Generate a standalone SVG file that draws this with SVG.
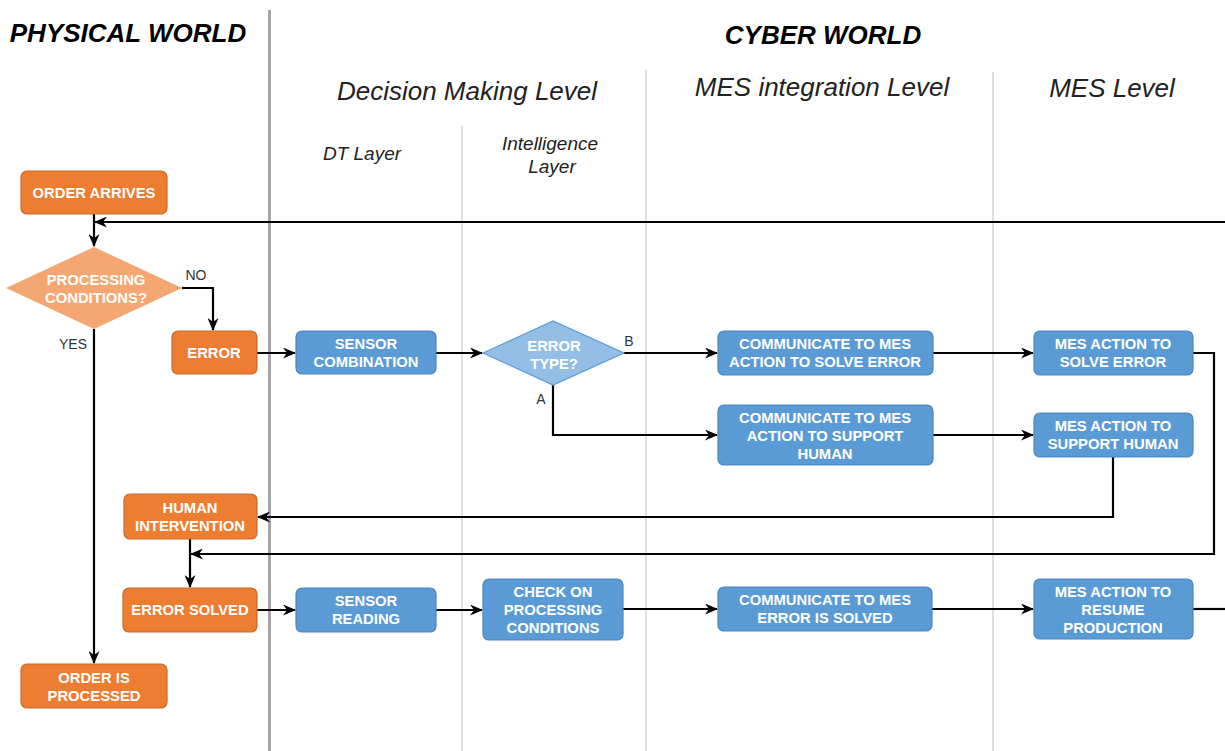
<svg xmlns="http://www.w3.org/2000/svg" width="1225" height="751" viewBox="0 0 1225 751">
  <style>
    .world { font-family: "Liberation Sans", Arial, sans-serif; font-weight: bold; font-style: italic; font-size: 26px; fill: #000; text-anchor: middle; }
    .level { font-family: "Liberation Sans", Arial, sans-serif; font-style: italic; font-size: 26px; fill: #222; text-anchor: middle; }
    .layer { font-family: "Liberation Sans", Arial, sans-serif; font-style: italic; font-size: 19px; fill: #222; text-anchor: middle; }
    .lane { stroke: #d4d4d4; stroke-width: 1.5; }
    .divider { stroke: #a6a6a6; stroke-width: 3; }
    .orange rect { fill: #ED7D31; stroke: #C9692A; stroke-width: 1.2; }
    .blue rect { fill: #5B9BD5; stroke: #4A86BE; stroke-width: 1.2; }
    .odiamond polygon { fill: #F4A772; }
    .bdiamond polygon { fill: #93BEE5; stroke: #5B9BD5; stroke-width: 1.2; }
    .lbl { font-family: "Liberation Sans", Arial, sans-serif; font-weight: bold; font-size: 14.8px; fill: #fff; text-anchor: middle; }
    .branch { font-family: "Liberation Sans", Arial, sans-serif; font-size: 14px; fill: #333; text-anchor: middle; }
    #connectors path { fill: none; stroke: #000; stroke-width: 2.2; }
  </style>
  <defs>
    <marker id="arrow" viewBox="0 0 13 11" refX="12" refY="5.5" markerWidth="13" markerHeight="11" markerUnits="userSpaceOnUse" orient="auto">
      <path d="M0,0 L13,5.5 L0,11 L4,5.5 Z" fill="#000"/>
    </marker>
  </defs>

  <rect x="0" y="0" width="1225" height="751" fill="#fff"/>

  <!-- swimlane dividers -->
  <g id="lanes">
    <line class="divider" x1="269.5" y1="10" x2="269.5" y2="751"/>
    <line class="lane" x1="462" y1="126" x2="462" y2="751"/>
    <line class="lane" x1="646" y1="70" x2="646" y2="751"/>
    <line class="lane" x1="993" y1="72" x2="993" y2="751"/>
  </g>

  <!-- headings -->
  <g id="headings">
    <text class="world" x="128" y="42">PHYSICAL WORLD</text>
    <text class="world" x="823" y="44">CYBER WORLD</text>
    <text class="level" x="467" y="100">Decision Making Level</text>
    <text class="level" x="822" y="96">MES integration Level</text>
    <text class="level" x="1112" y="97">MES Level</text>
    <text class="layer" x="362" y="160">DT Layer</text>
    <text class="layer" x="550" y="150">Intelligence</text>
    <text class="layer" x="552" y="173">Layer</text>
  </g>

  <!-- connectors -->
  <g id="connectors">
    <path d="M94,214 V246" marker-end="url(#arrow)"/>
    <path d="M1225,222 H95" marker-end="url(#arrow)"/>
    <path d="M182,288 H213 V330" marker-end="url(#arrow)"/>
    <path d="M94,329 V663" marker-end="url(#arrow)"/>
    <path d="M257,353 H295" marker-end="url(#arrow)"/>
    <path d="M436,353 H482" marker-end="url(#arrow)"/>
    <path d="M624,353 H717" marker-end="url(#arrow)"/>
    <path d="M553,385 V435 H717" marker-end="url(#arrow)"/>
    <path d="M933,353 H1033" marker-end="url(#arrow)"/>
    <path d="M933,435 H1033" marker-end="url(#arrow)"/>
    <path d="M1113,457 V517 H258" marker-end="url(#arrow)"/>
    <path d="M1193,353 H1214 V554 H191" marker-end="url(#arrow)"/>
    <path d="M190,539 V587" marker-end="url(#arrow)"/>
    <path d="M257,610 H295" marker-end="url(#arrow)"/>
    <path d="M436,610 H482" marker-end="url(#arrow)"/>
    <path d="M623,609 H717" marker-end="url(#arrow)"/>
    <path d="M932,609 H1033" marker-end="url(#arrow)"/>
    <path d="M1193,609 H1225"/>
  </g>

  <!-- branch labels -->
  <g id="branch-labels">
    <text class="branch" x="196" y="280">NO</text>
    <text class="branch" x="73" y="349">YES</text>
    <text class="branch" x="629" y="346">B</text>
    <text class="branch" x="541" y="404">A</text>
  </g>

  <!-- physical world nodes -->
  <g id="order-arrives" class="orange">
    <rect x="21" y="171" width="146" height="43" rx="6"/>
    <text class="lbl" x="94" y="198">ORDER ARRIVES</text>
  </g>
  <g id="processing-conditions" class="odiamond">
    <polygon points="6,288 94,247 182,288 94,329"/>
    <text class="lbl" x="96" y="285">PROCESSING</text>
    <text class="lbl" x="96" y="303">CONDITIONS?</text>
  </g>
  <g id="error" class="orange">
    <rect x="172" y="331" width="85" height="43" rx="6"/>
    <text class="lbl" x="214" y="358">ERROR</text>
  </g>
  <g id="human-intervention" class="orange">
    <rect x="124" y="494" width="133" height="45" rx="6"/>
    <text class="lbl" x="190" y="513">HUMAN</text>
    <text class="lbl" x="190" y="531">INTERVENTION</text>
  </g>
  <g id="error-solved" class="orange">
    <rect x="123" y="588" width="134" height="44" rx="6"/>
    <text class="lbl" x="190" y="615">ERROR SOLVED</text>
  </g>
  <g id="order-processed" class="orange">
    <rect x="21" y="664" width="146" height="44" rx="6"/>
    <text class="lbl" x="94" y="683">ORDER IS</text>
    <text class="lbl" x="94" y="701">PROCESSED</text>
  </g>

  <!-- cyber world nodes -->
  <g id="sensor-combination" class="blue">
    <rect x="296" y="331" width="140" height="43" rx="6"/>
    <text class="lbl" x="366" y="349">SENSOR</text>
    <text class="lbl" x="366" y="367">COMBINATION</text>
  </g>
  <g id="error-type" class="bdiamond">
    <polygon points="483,353 553,321 624,353 553,385"/>
    <text class="lbl" x="554" y="351">ERROR</text>
    <text class="lbl" x="554" y="369">TYPE?</text>
  </g>
  <g id="comm-solve-error" class="blue">
    <rect x="718" y="331" width="215" height="44" rx="6"/>
    <text class="lbl" x="825" y="349">COMMUNICATE TO MES</text>
    <text class="lbl" x="825" y="367">ACTION TO SOLVE ERROR</text>
  </g>
  <g id="comm-support-human" class="blue">
    <rect x="718" y="405" width="215" height="60" rx="6"/>
    <text class="lbl" x="825" y="423">COMMUNICATE TO MES</text>
    <text class="lbl" x="825" y="441">ACTION TO SUPPORT</text>
    <text class="lbl" x="825" y="459">HUMAN</text>
  </g>
  <g id="mes-solve-error" class="blue">
    <rect x="1034" y="331" width="159" height="44" rx="6"/>
    <text class="lbl" x="1113" y="349">MES ACTION TO</text>
    <text class="lbl" x="1113" y="367">SOLVE ERROR</text>
  </g>
  <g id="mes-support-human" class="blue">
    <rect x="1034" y="413" width="159" height="44" rx="6"/>
    <text class="lbl" x="1113" y="431">MES ACTION TO</text>
    <text class="lbl" x="1113" y="449">SUPPORT HUMAN</text>
  </g>
  <g id="sensor-reading" class="blue">
    <rect x="296" y="588" width="140" height="44" rx="6"/>
    <text class="lbl" x="366" y="606">SENSOR</text>
    <text class="lbl" x="366" y="624">READING</text>
  </g>
  <g id="check-conditions" class="blue">
    <rect x="483" y="579" width="140" height="61" rx="6"/>
    <text class="lbl" x="553" y="597">CHECK ON</text>
    <text class="lbl" x="553" y="615">PROCESSING</text>
    <text class="lbl" x="553" y="633">CONDITIONS</text>
  </g>
  <g id="comm-error-solved" class="blue">
    <rect x="718" y="587" width="214" height="44" rx="6"/>
    <text class="lbl" x="825" y="605">COMMUNICATE TO MES</text>
    <text class="lbl" x="825" y="623">ERROR IS SOLVED</text>
  </g>
  <g id="mes-resume" class="blue">
    <rect x="1034" y="579" width="159" height="60" rx="6"/>
    <text class="lbl" x="1113" y="597">MES ACTION TO</text>
    <text class="lbl" x="1113" y="615">RESUME</text>
    <text class="lbl" x="1113" y="633">PRODUCTION</text>
  </g>
</svg>
